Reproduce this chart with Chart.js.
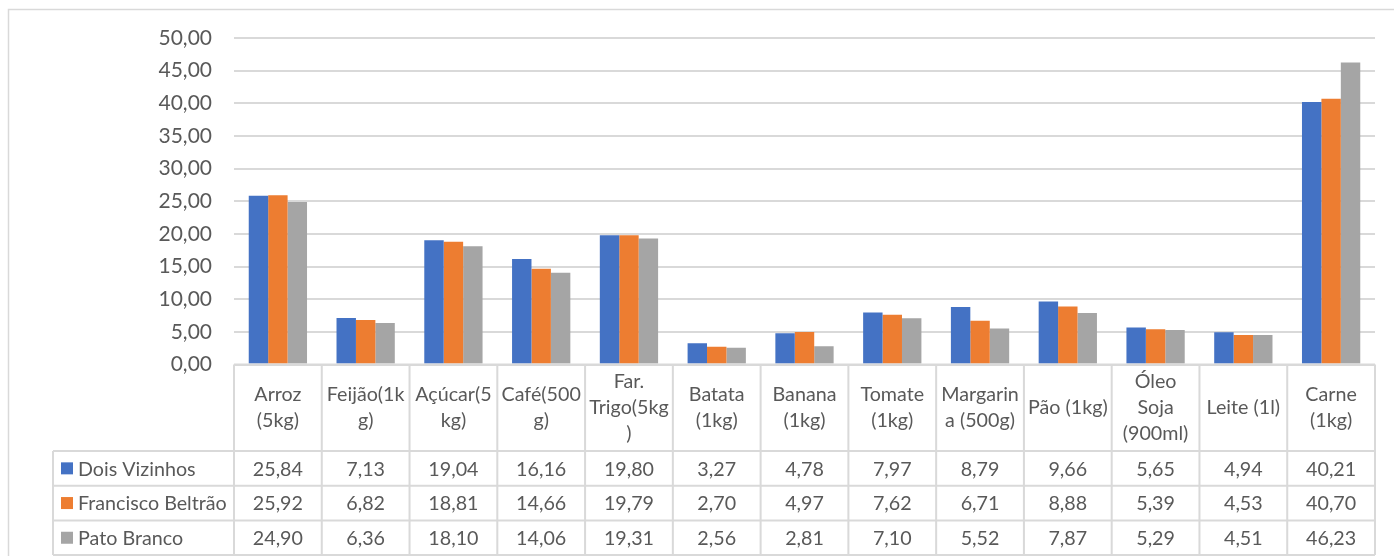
<!DOCTYPE html>
<html>
<head>
<meta charset="utf-8">
<script src="https://cdn.jsdelivr.net/npm/chart.js@4/dist/chart.umd.min.js"></script>
<style>
  html, body { margin: 0; padding: 0; background: #fff; overflow: hidden; }
  #wrap { position: relative; width: 1394px; height: 556px; }
</style>
</head>
<body>
<div id="wrap"><canvas id="grafico" width="1394" height="556"></canvas></div>
<script>
// ========== DADOS ==========
const produtos = [
  ["Arroz", "(5kg)"], ["Feijão(1k", "g)"], ["Açúcar(5", "kg)"], ["Café(500", "g)"],
  ["Far.", "Trigo(5kg", ")"], ["Batata", "(1kg)"], ["Banana", "(1kg)"], ["Tomate", "(1kg)"],
  ["Margarin", "a (500g)"], ["Pão (1kg)"], ["Óleo", "Soja", "(900ml)"], ["Leite (1l)"], ["Carne", "(1kg)"]
];
const cidades = ["Dois Vizinhos", "Francisco Beltrão", "Pato Branco"];
const doisVizinhos = [25.84, 7.13, 19.04, 16.16, 19.80, 3.27, 4.78, 7.97, 8.79, 9.66, 5.65, 4.94, 40.21];
const franciscoBeltrao = [25.92, 6.82, 18.81, 14.66, 19.79, 2.70, 4.97, 7.62, 6.71, 8.88, 5.39, 4.53, 40.70];
const patoBranco = [24.90, 6.36, 18.10, 14.06, 19.31, 2.56, 2.81, 7.10, 5.52, 7.87, 5.29, 4.51, 46.23];
const cores = ["#4472C4", "#ED7D31", "#A5A5A5"];

const FONTE = "Lato, 'Open Sans', sans-serif";
const CINZA_TXT = "#595959";
const CINZA_LINHA = "#d9d9d9";

function fmt(v) { return v.toFixed(2).replace(".", ","); }

// ========== TABELA DE DADOS (desenhada embaixo do grafico) ==========
const tabelaPlugin = {
  id: "tabela",
  afterDraw(chart) {
    const ctx = chart.ctx;
    const area = chart.chartArea;
    const n = produtos.length;
    const cw = area.width / n;
    const topo = area.bottom;
    const altCab = 86.5;
    const altLin = 34.7;
    const xLeg = 53;
    const series = [doisVizinhos, franciscoBeltrao, patoBranco];
    const fim = topo + altCab + altLin * 3;

    ctx.save();
    // borda externa
    ctx.strokeStyle = CINZA_LINHA;
    ctx.lineWidth = 1.5;
    ctx.beginPath();
    ctx.moveTo(8.5, 600);
    ctx.lineTo(8.5, 9.5);
    ctx.lineTo(1400, 9.5);
    ctx.stroke();

    // linhas da tabela
    ctx.lineWidth = 2;
    ctx.beginPath();
    ctx.moveTo(area.left, topo); ctx.lineTo(area.right, topo);
    for (let r = 0; r <= 3; r++) {
      const y = topo + altCab + altLin * r;
      ctx.moveTo(xLeg, y); ctx.lineTo(area.right, y);
    }
    for (let i = 0; i <= n; i++) {
      const x = area.left + cw * i;
      ctx.moveTo(x, topo); ctx.lineTo(x, fim);
    }
    ctx.moveTo(xLeg, topo + altCab); ctx.lineTo(xLeg, fim);
    ctx.stroke();

    // cabecalho
    ctx.fillStyle = CINZA_TXT;
    ctx.font = "19.7px " + FONTE;
    ctx.textAlign = "center";
    ctx.textBaseline = "middle";
    const lh = 26;
    produtos.forEach((linhas, i) => {
      const cx = area.left + cw * (i + 0.5);
      const cy = topo + altCab / 2;
      linhas.forEach((t, k) => {
        ctx.fillText(t, cx, cy + (k - (linhas.length - 1) / 2) * lh);
      });
    });

    // linhas de valores
    series.forEach((vals, r) => {
      const cy = topo + altCab + altLin * (r + 0.5);
      ctx.fillStyle = cores[r];
      ctx.fillRect(61, cy - 6, 12, 12);
      ctx.fillStyle = CINZA_TXT;
      ctx.textAlign = "left";
      ctx.fillText(cidades[r], 78, cy + 1);
      ctx.textAlign = "center";
      vals.forEach((v, i) => {
        ctx.fillText(fmt(v), area.left + cw * (i + 0.5), cy + 1);
      });
    });
    ctx.restore();
  }
};

// ========== GRAFICO ==========
new Chart(document.getElementById("grafico"), {
  type: "bar",
  data: {
    labels: produtos.map(p => p.join(" ")),
    datasets: [
      { label: cidades[0], data: doisVizinhos, backgroundColor: cores[0] },
      { label: cidades[1], data: franciscoBeltrao, backgroundColor: cores[1] },
      { label: cidades[2], data: patoBranco, backgroundColor: cores[2] }
    ]
  },
  options: {
    responsive: false,
    animation: false,
    devicePixelRatio: 1,
    layout: { padding: { top: 38, right: 19, bottom: 191.5, left: 0 } },
    datasets: { bar: { barPercentage: 1, categoryPercentage: 0.664 } },
    plugins: { legend: { display: false }, tooltip: { enabled: false } },
    scales: {
      x: { display: false },
      y: {
        min: 0, max: 50,
        ticks: {
          stepSize: 5,
          padding: 22,
          color: CINZA_TXT,
          font: { family: FONTE, size: 21 },
          callback: v => fmt(v)
        },
        grid: { color: CINZA_LINHA, lineWidth: 2, drawTicks: false },
        border: { display: false },
        afterFit(scale) { scale.width = 234; }
      }
    }
  },
  plugins: [tabelaPlugin]
});
</script>
</body>
</html>
